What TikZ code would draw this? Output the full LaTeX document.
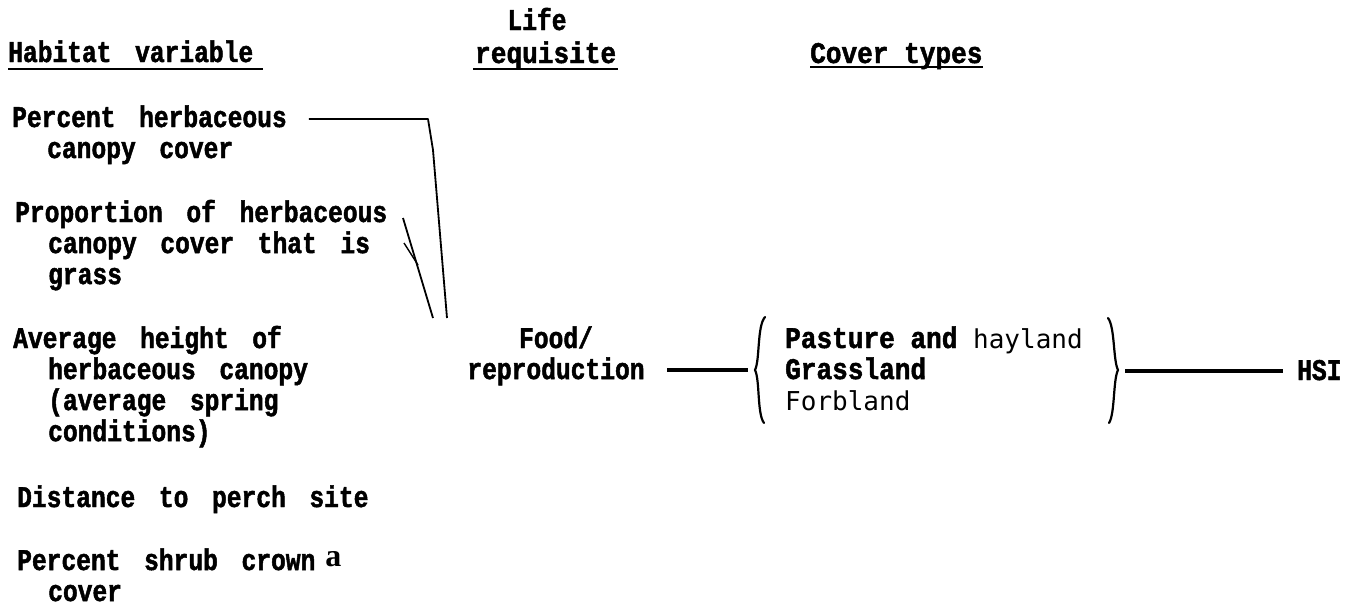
\documentclass[tikz,border=0pt]{standalone}
\usepackage{fontspec}
\newfontfamily\twl[FakeStretch=0.82,WordSpace=1.6,BoldFeatures={FakeBold=1.6}]{Liberation Mono}
\newfontfamily\twr[FakeStretch=0.87,BoldFeatures={FakeBold=1.6}]{Liberation Mono}
\newfontfamily\ocrf{DejaVu Sans Mono}
\newfontfamily\serfa{Liberation Serif}
\newcommand\mlines[1]{\begin{tabular}[t]{@{}l@{}}#1\end{tabular}}
\newcommand\clines[1]{\begin{tabular}[t]{@{}c@{}}#1\end{tabular}}
\newcommand\lite[1]{{\ocrf\mdseries\fontsize{26}{31}\selectfont #1}}
\begin{document}
\begin{tikzpicture}[x=1pt,y=-1pt,
  lbl/.style={inner sep=0pt,anchor=base west,font={\twl\bfseries\fontsize{30}{31}\selectfont}},
  lblr/.style={inner sep=0pt,anchor=base west,font={\twr\bfseries\fontsize{30}{31}\selectfont}},
  uline/.style={line width=2.4pt},
  conn/.style={line width=1.8pt,line join=round},
  thickconn/.style={line width=3.6pt},
  bracepath/.style={line width=2.2pt,line cap=round}]
\fill[white] (0,0) rectangle (1353,606);
\useasboundingbox (0,0) rectangle (1353,606);
% headers
\node[lbl,anchor=base] (life) at (537,30) {Life};
\node[lblr] (req) at (475,63) {requisite};
\node[lbl] (hab) at (8,62) {Habitat variable};
\node[lblr] (cov) at (810,63) {Cover types};
\draw[uline] ([xshift=-2pt,yshift=-6pt]req.base west) -- ([xshift=2pt,yshift=-6pt]req.base east);
\draw[uline] ([yshift=-7pt]hab.base west) -- ([xshift=10pt,yshift=-7pt]hab.base east);
\draw[uline] ([yshift=-4pt]cov.base west) -- ([yshift=-4pt]cov.base east);
% habitat variables
\node[lbl] (v1) at (12,127) {\mlines{Percent herbaceous\\\hspace*{35pt}canopy cover}};
\node[lbl] (v2) at (15,222) {\mlines{Proportion of herbaceous\\\hspace*{33pt}canopy cover that is\\\hspace*{33pt}grass}};
\node[lbl] (v3) at (13,348) {\mlines{Average height of\\\hspace*{35pt}herbaceous canopy\\\hspace*{35pt}(average spring\\\hspace*{35pt}conditions)}};
\node[lbl] (v4) at (17,507) {Distance to perch site};
\node[lbl] (v5) at (17,570) {\mlines{Percent shrub crown\hspace{10pt}\raisebox{4pt}{\serfa\bfseries\fontsize{32}{31}\selectfont a}\\\hspace*{31pt}cover}};
% life requisite
\node[lbl] (food) at (556,348) [anchor=base] {\clines{Food/\\reproduction}};
% cover types
\node[lblr] (ct) at (785,348) {\mlines{Pasture and \lite{hayland}\\Grassland\\\lite{Forbland}}};
\node[lbl] (hsi) at (1297,380) {HSI};
% connector coordinates
\coordinate (k1) at (428,119);
\coordinate (m1) at (433,150);
\coordinate (e1) at (447,318);
\coordinate (s2) at (403,218);
\coordinate (e2) at (433,318);
\coordinate (s3) at (404,243);
\coordinate (e3) at (418,265);
\coordinate (fl) at (667,370);
\coordinate (bl) at (748,370);
\coordinate (hr) at (1125,371);
\coordinate (hl) at (1283,371);
% connectors
\draw[conn] ([xshift=22pt,yshift=8pt]v1.base east) -- (k1) -- (m1) -- (e1);
\draw[conn] (s2) -- (e2);
\draw[conn,line width=1.4pt] (s3) -- (e3);
\draw[thickconn] (fl) -- (bl);
\draw[thickconn] (hr) -- (hl);
% braces
\draw[bracepath] (765,317) .. controls (757,326) and (760,360) .. (755,370) .. controls (760,380) and (757,414) .. (764,423);
\draw[bracepath] (1108,318) .. controls (1115,327) and (1113,360) .. (1118,370) .. controls (1113,380) and (1115,414) .. (1109,423);
\end{tikzpicture}
\end{document}
